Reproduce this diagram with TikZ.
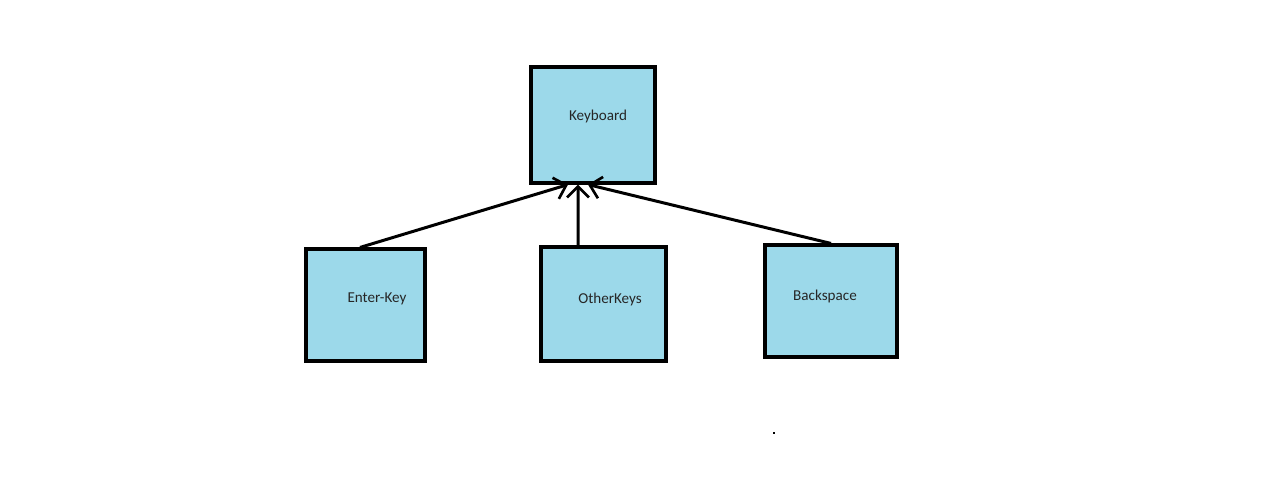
\documentclass[tikz,border=0pt]{standalone}
\usepackage{fontspec}
\setmainfont{Carlito}
\usetikzlibrary{arrows.meta}
\definecolor{keyblue}{RGB}{156,217,234}

\begin{document}
\begin{tikzpicture}[x=0.02cm,y=-0.02cm,
    keybox/.style={draw=black,line width=1.8pt,fill=keyblue,inner sep=0pt},
    keylabel/.style={font=\fontsize{8.6}{10}\selectfont,text=black!85},
    inherit/.style={-{Straight Barb[length=2.2mm,width=4.4mm,line width=1.5pt]},line width=1.7pt}]
\useasboundingbox (0,0) rectangle (1280,484);

% Draw boxes
\node[keybox,minimum width=2.48cm,minimum height=2.32cm] (kbd) at (593,125)
    {} node[keylabel] (kbdtxt) at (598,116) {Keyboard};
\node[keybox,minimum width=2.38cm,minimum height=2.24cm] (enter) at (365.5,305)
    {} node[keylabel] (entertxt) at (377,299) {Enter-Key};
\node[keybox,minimum width=2.5cm,minimum height=2.28cm] (other) at (603.5,304)
    {} node[keylabel] (othertxt) at (610,299) {OtherKeys};
\node[keybox,minimum width=2.64cm,minimum height=2.24cm] (back) at (831,301)
    {} node[keylabel] (backtxt) at (825,296) {Backspace};

% draw arrows
\draw[inherit] ([xshift=-0.11cm]enter.north) -- ([xshift=-0.5cm]kbd.south);
\draw[inherit] ([xshift=-0.51cm]other.north) -- ([xshift=-0.3cm]kbd.south);
\draw[inherit] (back.north) -- ([xshift=-0.1cm]kbd.south);

% dot
\fill (773,432) rectangle (775,434);
\end{tikzpicture}
\end{document}
